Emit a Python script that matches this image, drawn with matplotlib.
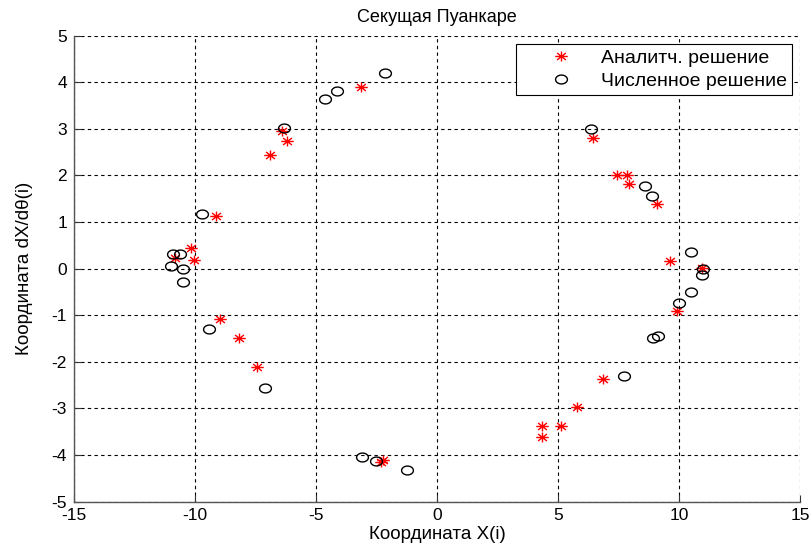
import numpy as np
import matplotlib
matplotlib.use("Agg")
import matplotlib.pyplot as plt
from matplotlib.path import Path

plt.rcParams['font.family'] = ['Liberation Sans', 'DejaVu Sans']
plt.rcParams['axes.unicode_minus'] = False

# аналитическое решение (точки сечения)
x_an = [-3.15, -6.42, -6.20, -6.89, -9.13, -10.17, -10.83, -10.04, -8.97, -8.17,
        -7.42, -2.22, -2.30,
        6.46, 7.45, 7.86, 7.92, 9.08, 9.63, 10.96, 9.93, 6.87, 5.77, 5.11, 4.35, 4.35]
y_an = [3.89, 2.96, 2.74, 2.44, 1.13, 0.43, 0.22, 0.18, -1.08, -1.50,
        -2.11, -4.10, -4.15,
        2.81, 2.01, 2.01, 1.81, 1.38, 0.16, 0.02, -0.91, -2.38, -2.97, -3.37, -3.37, -3.61]

# численное решение
x_num = [-2.15, -4.12, -4.63, -6.31, -9.70, -10.90, -10.62, -10.99, -10.51, -10.48,
         -9.42, -7.12, -3.10, -2.52, -1.25,
         6.35, 8.61, 8.90, 10.51, 11.00, 10.94, 10.51, 10.01, 8.94, 9.15, 7.73]
y_num = [4.20, 3.81, 3.63, 3.01, 1.16, 0.32, 0.32, 0.05, -0.02, -0.30,
         -1.30, -2.57, -4.04, -4.13, -4.32,
         2.99, 1.78, 1.56, 0.35, 0.00, -0.14, -0.50, -0.73, -1.50, -1.45, -2.31]

x_ticks = [-15, -10, -5, 0, 5, 10, 15]
y_ticks = [-5, -4, -3, -2, -1, 0, 1, 2, 3, 4, 5]

# маркер-эллипс (кружок, растянутый по горизонтали)
t = np.linspace(0, 2 * np.pi, 60)
ellipse = Path(np.column_stack([np.cos(t), 0.75 * np.sin(t)]), closed=True)

# звёздочка в стиле MATLAB: '+' и 'x' вместе
ast_verts = []
ast_codes = []
for a in np.arange(0, np.pi, np.pi / 4):
    dx, dy = np.cos(a), 0.8 * np.sin(a)
    ast_verts += [(-dx, -dy), (dx, dy)]
    ast_codes += [Path.MOVETO, Path.LINETO]
asterisk = Path(ast_verts, ast_codes)

fig = plt.figure(figsize=(8.11, 5.53), dpi=100)
ax = fig.add_axes([0.0912, 0.0931, 0.8952, 0.8427])

ax.plot(x_an, y_an, linestyle='none', marker=asterisk, markersize=9,
        markeredgecolor='#ff0000', markeredgewidth=1.0, label='Аналитч. решение')
ax.plot(x_num, y_num, linestyle='none', marker=ellipse, markersize=8.5,
        markerfacecolor='none', markeredgecolor='black', markeredgewidth=1.0,
        label='Численное решение')

ax.set_xlim(-15, 15)
ax.set_ylim(-5, 5)
ax.set_xticks(x_ticks)
ax.set_yticks(y_ticks)
ax.tick_params(direction='in', length=5, labelsize=12.5, colors='#333333',
               labelcolor='black', pad=5)
ax.grid(True, color='black', linestyle=(0, (3, 3)), linewidth=0.8)

for side in ['top', 'right']:
    ax.spines[side].set_visible(False)
for side in ['left', 'bottom']:
    ax.spines[side].set_color('#555555')
    ax.spines[side].set_linewidth(1.0)

ax.set_title('Секущая Пуанкаре', fontsize=13, pad=10)
ax.set_xlabel('Координата X(i)', fontsize=13.5, labelpad=2)
ax.set_ylabel('Координата dX/dθ(i)', fontsize=13.5, labelpad=13.5)

leg = ax.legend(loc='upper right', bbox_to_anchor=(0.989, 0.982), borderaxespad=0,
                fontsize=14, fancybox=False, framealpha=1, edgecolor='black',
                handlelength=4.1, handletextpad=0.0, borderpad=0.27,
                labelspacing=0.29)
leg.get_frame().set_linewidth(0.8)

fig.savefig('out.png', dpi=100)
